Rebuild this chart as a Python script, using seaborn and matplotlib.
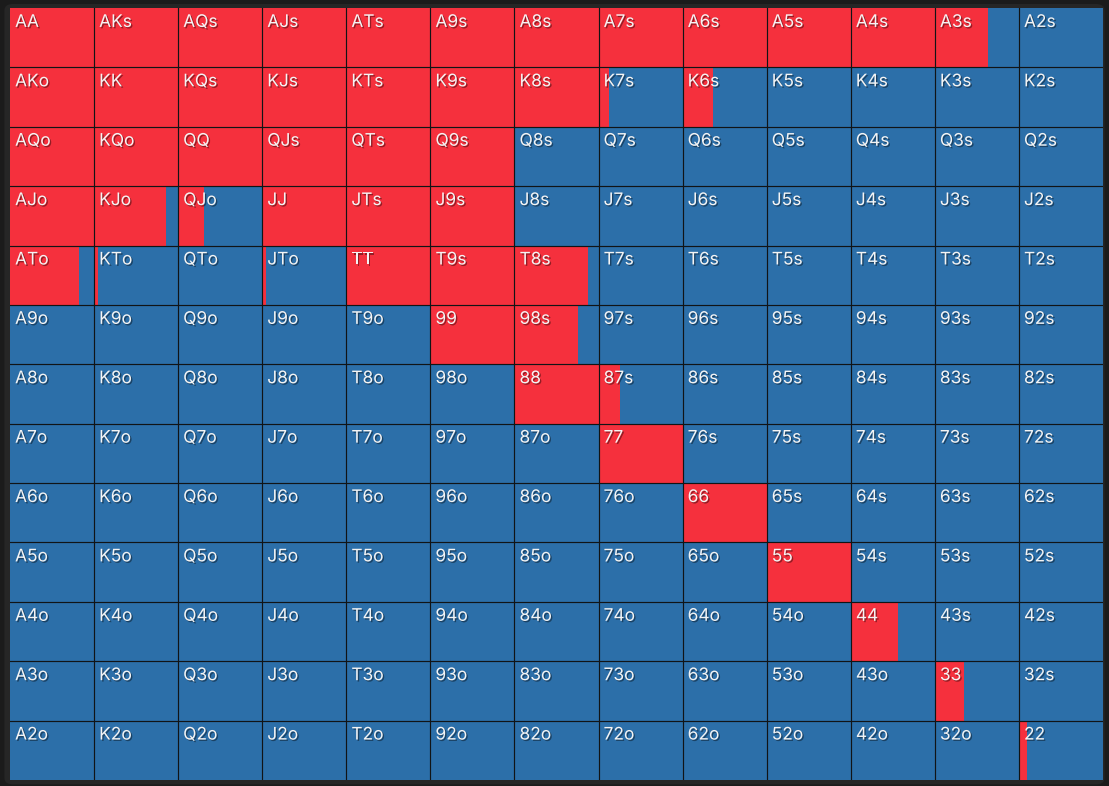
import numpy as np
import pandas as pd
import matplotlib
matplotlib.use('Agg')
import matplotlib.pyplot as plt
import matplotlib.patheffects as pe
from matplotlib.patches import FancyBboxPatch
import seaborn as sns

ranks = ['A', 'K', 'Q', 'J', 'T', '9', '8', '7', '6', '5', '4', '3', '2']

# share of each hand played as the red action (row = first rank, col = second rank)
row_A = [1, 1, 1, 1, 1, 1, 1, 1, 1, 1, 1, 0.63, 0]
row_K = [1, 1, 1, 1, 1, 1, 1, 0.13, 0.36, 0, 0, 0, 0]
row_Q = [1, 1, 1, 1, 1, 1, 0, 0, 0, 0, 0, 0, 0]
row_J = [1, 0.86, 0.31, 1, 1, 1, 0, 0, 0, 0, 0, 0, 0]
row_T = [0.82, 0.05, 0, 0.04, 1, 1, 0.87, 0, 0, 0, 0, 0, 0]
row_9 = [0, 0, 0, 0, 0, 1, 0.76, 0, 0, 0, 0, 0, 0]
row_8 = [0, 0, 0, 0, 0, 0, 1, 0.25, 0, 0, 0, 0, 0]
row_7 = [0, 0, 0, 0, 0, 0, 0, 1, 0, 0, 0, 0, 0]
row_6 = [0, 0, 0, 0, 0, 0, 0, 0, 1, 0, 0, 0, 0]
row_5 = [0, 0, 0, 0, 0, 0, 0, 0, 0, 1, 0, 0, 0]
row_4 = [0, 0, 0, 0, 0, 0, 0, 0, 0, 0, 0.56, 0, 0]
row_3 = [0, 0, 0, 0, 0, 0, 0, 0, 0, 0, 0, 0.35, 0]
row_2 = [0, 0, 0, 0, 0, 0, 0, 0, 0, 0, 0, 0, 0.1]

freq = pd.DataFrame([row_A, row_K, row_Q, row_J, row_T, row_9, row_8,
                     row_7, row_6, row_5, row_4, row_3, row_2],
                    index=ranks, columns=ranks)

RED = '#f5303d'
BLUE = '#2c6fa9'
LINE = '#111416'


def hand_name(i, j):
    if i == j:
        return ranks[i] + ranks[j]
    if j > i:
        return ranks[i] + ranks[j] + 's'
    return ranks[j] + ranks[i] + 'o'


fig = plt.figure(figsize=(11.09, 7.86), dpi=100, facecolor='#1b1b1b')
fig.patches.append(FancyBboxPatch((0.004, 0.002), 0.992, 0.993, boxstyle='round,pad=0,rounding_size=0.008',
                                  transform=fig.transFigure, facecolor='#262626',
                                  edgecolor='none', zorder=-5))
ax = fig.add_axes([10 / 1109, 6 / 786, 1093 / 1109, 772 / 786])
ax.set_zorder(5)

# blue base for every cell
sns.heatmap(np.zeros((13, 13)), cmap=matplotlib.colors.ListedColormap([BLUE]),
            cbar=False, ax=ax, xticklabels=False, yticklabels=False)

# red share, filled from the left of each cell
for i, r in enumerate(ranks):
    vals = freq.loc[r].values
    ax.barh(np.full(13, i + 0.5), vals, left=np.arange(13), height=1.0,
            color=RED, linewidth=0, zorder=2)

for k in range(1, 13):
    ax.axhline(k, color=LINE, lw=0.85, zorder=3)
    ax.axvline(k, color=LINE, lw=0.85, zorder=3)

for i in range(13):
    for j in range(13):
        ax.text(j + 0.06, i + 0.1, hand_name(i, j), ha='left', va='top',
                color='#f4f4f4', fontsize=12.5, family=['Inter', 'DejaVu Sans'],
                zorder=4,
                path_effects=[pe.withSimplePatchShadow(offset=(1, -1), shadow_rgbFace='#000000', alpha=0.4)])

ax.set_xlim(0, 13)
ax.set_ylim(13, 0)
ax.set_axis_off()

fig.savefig('out.png', dpi=100, facecolor=fig.get_facecolor())
